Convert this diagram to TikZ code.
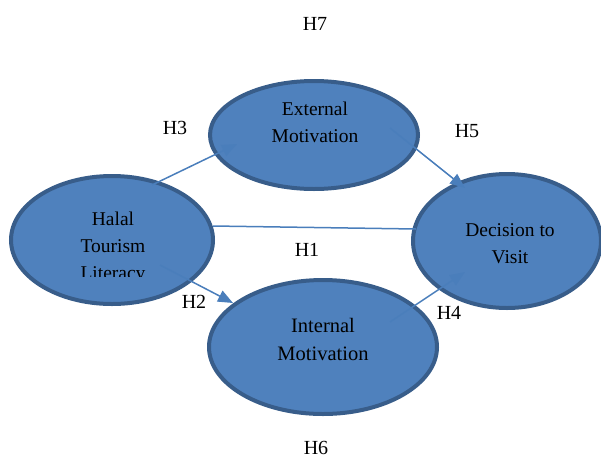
\documentclass[tikz,border=0pt]{standalone}
\usepackage{fontspec}
\setmainfont{Liberation Serif}
\usetikzlibrary{shapes.geometric, arrows.meta, calc}

\definecolor{ovalfill}{HTML}{4F81BD}
\definecolor{ovaledge}{HTML}{385D8A}
\definecolor{linkblue}{HTML}{4A7EBB}

\begin{document}
\begin{tikzpicture}[x=1pt, y=1pt,
  oval/.style={ellipse, draw=ovaledge, line width=4pt, fill=ovalfill, inner sep=0pt},
  ovaltext/.style={align=center, font=\fontsize{19.5}{27}\selectfont, inner sep=0pt},
  hyp/.style={font=\fontsize{20}{24}\selectfont, inner sep=0pt},
  link/.style={draw=linkblue, line width=1.5pt},
  linkarrow/.style={link, -{Triangle[length=15pt, width=12pt]}}]
\useasboundingbox (0,0) rectangle (601,-461);

% ovals
\node[oval, minimum width=202, minimum height=128] (halal) at (112,-240) {};
\node[oval, minimum width=208, minimum height=108] (ext) at (314,-135) {};
\node[oval, minimum width=188, minimum height=134] (dec) at (507,-241) {};
\node[oval, minimum width=228, minimum height=134] (int) at (323,-347) {};

% texts in the ovals
\begin{scope}
\clip (20,-190) rectangle (210,-276);
\node[ovaltext] (halaltxt) at (113,-248) {Halal\\Tourism\\Literacy};
\end{scope}
\node[ovaltext] (exttxt) at (315,-122) {External\\Motivation};
\node[ovaltext] (dectxt) at (510,-244) {Decision to\\Visit};
\node[ovaltext, font=\fontsize{20.5}{28}\selectfont] (inttxt) at (323,-339) {Internal\\Motivation};

% links
\draw[linkarrow] ($(halal.center)+(40,55)$) -- ($(ext.center)+(-77,-9)$);
\draw[linkarrow] ($(ext.center)+(76,7)$) -- ($(dec.center)+(-42,53)$);
\draw[link] ($(halal.center)+(101,14)$) -- ($(dec.center)+(-91,12)$);
\draw[linkarrow] ($(halal.center)+(48,-25)$) -- ($(int.center)+(-90,44)$);
\draw[linkarrow] ($(int.center)+(67,25)$) -- ($(dec.center)+(-42,-31)$);

% hypotheses
\node[hyp] (h7) at (315,-24) {H7};
\node[hyp] (h3) at (175,-128) {H3};
\node[hyp] (h5) at (467,-131) {H5};
\node[hyp] (h1) at (307,-250) {H1};
\node[hyp] (h2) at (194,-302) {H2};
\node[hyp] (h4) at (449,-313) {H4};
\node[hyp] (h6) at (316,-448) {H6};
\end{tikzpicture}
\end{document}
